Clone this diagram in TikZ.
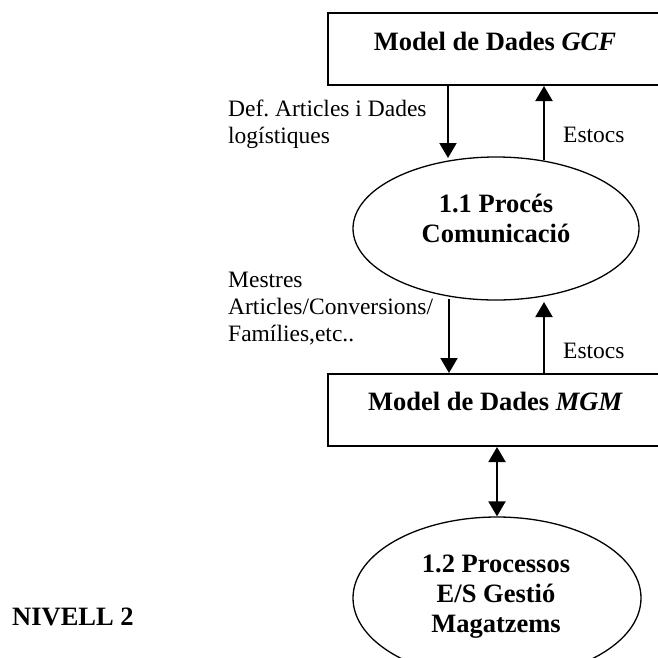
\documentclass[tikz,border=0pt]{standalone}
\usepackage{fontspec}
\setmainfont{Liberation Serif}
\usetikzlibrary{arrows.meta,shapes.geometric}
\frenchspacing
\begin{document}
\begin{tikzpicture}[x=1pt,y=-1pt,
  boxnode/.style={draw,line width=2pt,rectangle,minimum width=392pt,minimum height=72pt,inner sep=0pt},
  procnode/.style={draw,line width=1.3pt,ellipse,inner sep=0pt},
  titletext/.style={font=\fontsize{26.5}{30}\selectfont\bfseries,align=center,inner sep=0pt,anchor=base},
  labeltext/.style={font=\fontsize{23.5}{27}\selectfont,align=left,inner sep=0pt,anchor=base west},
  flow/.style={line width=2pt,-{Triangle[width=17pt,length=15pt]}},
  bothflow/.style={line width=2pt,{Triangle[width=17pt,length=15pt]}-{Triangle[width=17pt,length=15pt]}}
]
\useasboundingbox (0,0) rectangle (658,657);
\fill[white] (0,0) rectangle (658,657);
\begin{scope}
\clip (0,0) rectangle (658,657);

% boxes
\node[boxnode] (gcf) at (524,49) {};
\node[titletext] (gcft) at (495,50) {Model de Dades \textit{GCF}};

\node[boxnode] (mgm) at (524,410) {};
\node[titletext] (mgmt) at (495.5,410) {Model de Dades \textit{MGM}};

% processes (multi-line text: base anchor = last line)
\node[procnode,minimum width=286pt,minimum height=143pt] (p11) at (496,228.5) {};
\node[titletext] (p11t) at (496,242) {1.1 Procés\\Comunicació};

\node[procnode,minimum width=288pt,minimum height=162pt] (p12) at (497,598) {};
\node[titletext] (p12t) at (496,632) {1.2 Processos\\E/S Gestió\\Magatzems};

% arrow end points on the ellipses
\coordinate (d1) at (448,158);
\coordinate (u1) at (544,160);
\coordinate (d2) at (449,299);
\coordinate (u2) at (544,302);
\coordinate (b2) at (497,446);

% connectors
\draw[flow] (gcf.south -| d1) -- (d1);
\draw[flow] (u1) -- (u1 |- gcf.south);
\draw[flow] (d2) -- (d2 |- mgm.north);
\draw[flow] (u2 |- mgm.north) -- (u2);
\draw[bothflow] (b2 |- mgm.south) -- (b2 |- p12.north);

% labels
\node[labeltext] (l1) at (228,143) {Def. Articles i Dades\\logístiques};
\node[labeltext] (l2) at (563,142) {Estocs};
\node[labeltext] (l3) at (228,341) {Mestres\\Articles/Conversions/\\Famílies,etc..};
\node[labeltext] (l4) at (563,358) {Estocs};

\node[titletext,anchor=base west] (niv) at (12,625) {NIVELL 2};
\end{scope}
\end{tikzpicture}
\end{document}
